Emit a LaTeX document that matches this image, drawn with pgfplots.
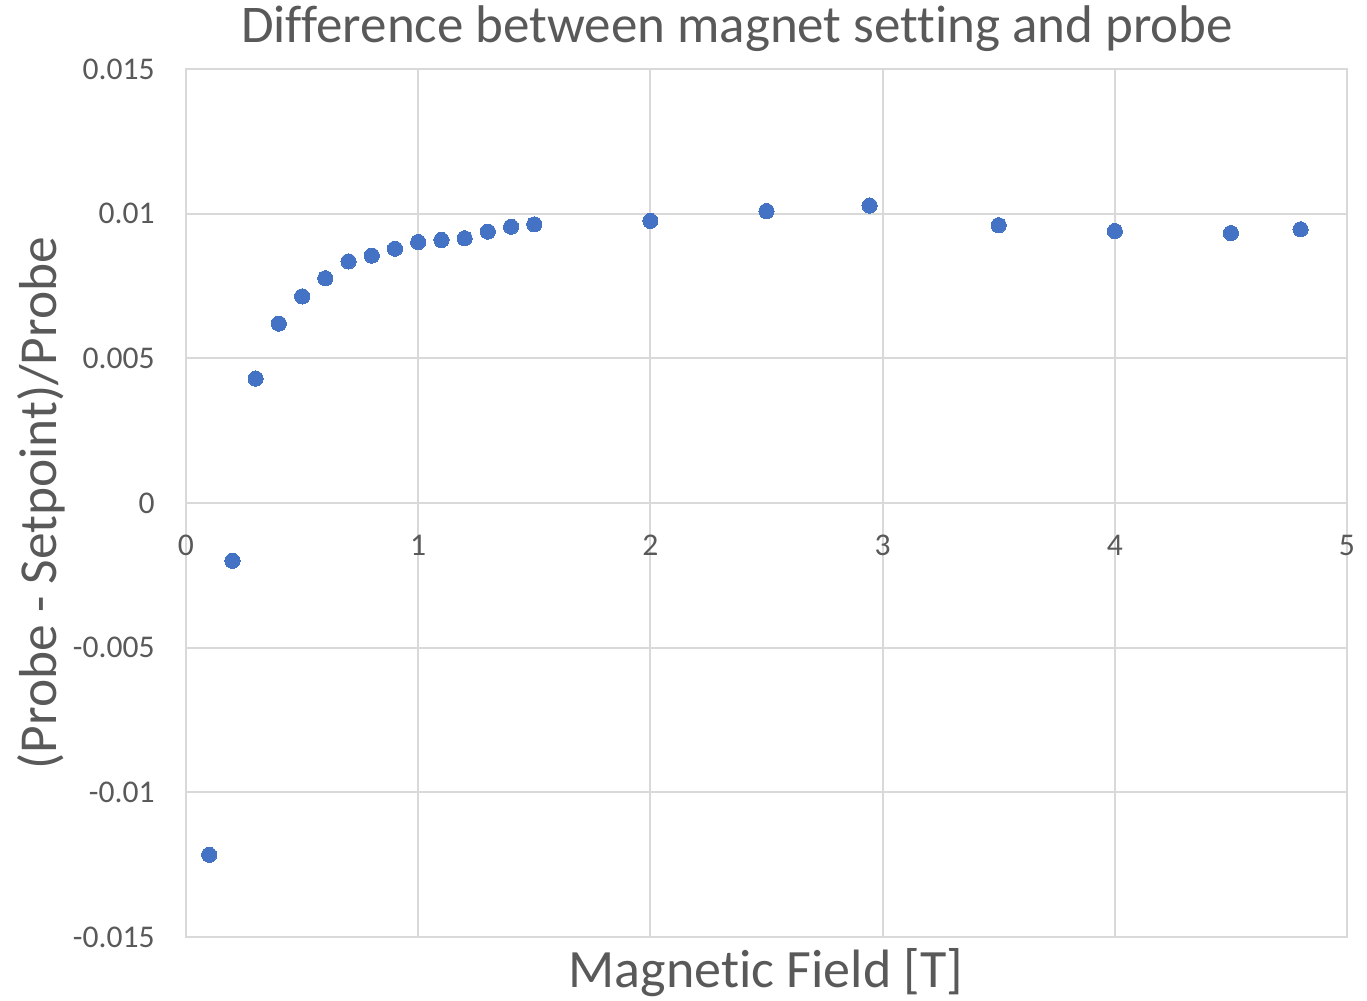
\documentclass[border=0pt]{standalone}
\usepackage{fontspec}
\setmainfont{Carlito}[Ligatures=NoCommon]
\usepackage{pgfplots}
\pgfplotsset{compat=1.18}
\definecolor{gridc}{HTML}{D9D9D9}
\definecolor{txt}{HTML}{595959}
\definecolor{ptc}{HTML}{4472C4}
\begin{document}
\begin{tikzpicture}
\begin{axis}[
  scale only axis, width=580.5pt, height=434pt,
  at={(0,0)}, anchor=south west,
  xmin=0, xmax=5, ymin=-0.015, ymax=0.015,
  xtick={0,1,2,3,4,5}, xticklabels={0,1,2,3,4,5},
  ytick={-0.015,-0.01,-0.005,0,0.005,0.01,0.015},
  yticklabels={-0.015,-0.01,-0.005,0,0.005,0.01,0.015},
  scaled y ticks=false, scaled x ticks=false,
  major tick length=0pt,
  grid=major,
  grid style={draw=gridc, line width=0.9pt},
  axis line style={draw=gridc, line width=0.9pt},
  tick label style={font=\fontsize{15.8pt}{18pt}\selectfont, text=txt, inner sep=0pt},
  xticklabel style={anchor=north, yshift=201pt},
  yticklabel style={anchor=east, xshift=-15.5pt},
  clip=false,
]
\addplot[only marks, mark=*, mark size=3.8pt, mark options={fill=ptc, draw=ptc, line width=0pt}] coordinates {
(0.1,-0.01216) (0.2,-0.0020) (0.3,0.0043) (0.4,0.0062) (0.5,0.00714)
(0.6,0.00777) (0.7,0.00835) (0.8,0.00855) (0.9,0.00879) (1.0,0.00902)
(1.1,0.00909) (1.2,0.00915) (1.3,0.00938) (1.4,0.00955) (1.5,0.00963)
(2.0,0.00975) (2.5,0.01009) (2.944,0.01028) (3.5,0.0096) (4.0,0.0094)
(4.5,0.00933) (4.8,0.00946)
};
\end{axis}
\node[anchor=base, text=txt, font=\fontsize{26.5pt}{30pt}\selectfont, inner sep=0pt] at (275.5pt,447pt) {Difference between magnet setting and probe};
\node[anchor=base, text=txt, font=\fontsize{27pt}{31pt}\selectfont, inner sep=0pt] at (290pt,-25.5pt) {Magnetic Field [T]};
\node[anchor=base, rotate=90, text=txt, font=\fontsize{26.7pt}{31pt}\selectfont, inner sep=0pt] at (-64.5pt,217pt) {(Probe - Setpoint)/Probe};
\pgfresetboundingbox
\path[use as bounding box] (-93pt,-32pt) rectangle (590.5pt,468.5pt);
\end{tikzpicture}
\end{document}
